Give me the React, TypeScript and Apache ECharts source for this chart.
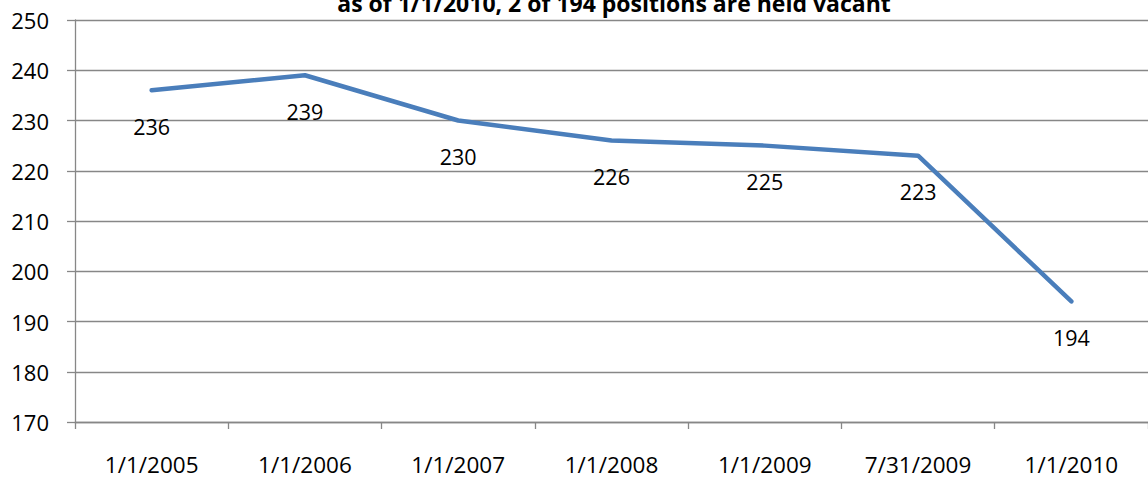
import React, { useEffect, useRef } from "react";
import * as echarts from "echarts";

const categories = ["1/1/2005", "1/1/2006", "1/1/2007", "1/1/2008", "1/1/2009", "7/31/2009", "1/1/2010"];
const positions = [236, 239, 230, 226, 225, 223, 194];
const titleText = "as of 1/1/2010, 2 of 194 positions are held vacant";
const yMin = 170;
const yMax = 250;
const yStep = 10;

const FONT = "'Open Sans', 'Noto Sans', sans-serif";
const GRID_COLOR = "#878787";

export default function App() {
  const ref = useRef<HTMLDivElement>(null);
  useEffect(() => {
    if (!ref.current) return;
    const chart = echarts.init(ref.current, undefined, { renderer: "svg" });
    chart.setOption({
      animation: false,
      backgroundColor: "#ffffff",
      title: {
        text: titleText,
        left: 614,
        textAlign: "center",
        top: -9,
        padding: 0,
        textStyle: { fontFamily: FONT, fontWeight: "bold", fontSize: 23, color: "#000" },
      },
      grid: { left: 75, right: 0, top: 20, bottom: 59, containLabel: false },
      xAxis: {
        type: "category",
        data: categories,
        boundaryGap: true,
        axisLine: { show: true, lineStyle: { color: GRID_COLOR, width: 1.3 } },
        axisTick: { show: true, length: 7, alignWithLabel: false, lineStyle: { color: GRID_COLOR, width: 1.3 } },
        axisLabel: { margin: 31, fontFamily: FONT, fontSize: 22.5, color: "#000" },
        splitLine: { show: false },
      },
      yAxis: {
        type: "value",
        min: yMin,
        max: yMax,
        interval: yStep,
        axisLine: { show: true, lineStyle: { color: GRID_COLOR, width: 1.3 } },
        axisTick: { show: true, length: 8, lineStyle: { color: GRID_COLOR, width: 1.3 } },
        axisLabel: { margin: 26, fontFamily: FONT, fontSize: 22, color: "#000" },
        splitLine: { show: true, lineStyle: { color: GRID_COLOR, width: 1.3 } },
      },
      series: [
        {
          type: "line",
          data: positions,
          symbol: "circle",
          symbolSize: 2,
          showSymbol: true,
          itemStyle: { color: "#4A7EBB" },
          lineStyle: { color: "#4A7EBB", width: 4.5, cap: "round", join: "round" },
          label: {
            show: true,
            position: "inside",
            offset: [0, 36],
            fontFamily: FONT,
            fontSize: 21.5,
            color: "#000",
          },
        },
      ],
    });
    return () => chart.dispose();
  }, []);
  return (
    <div
      ref={ref}
      style={{ position: "absolute", left: 0, top: 0, width: 1148, height: 481 }}
    />
  );
}
